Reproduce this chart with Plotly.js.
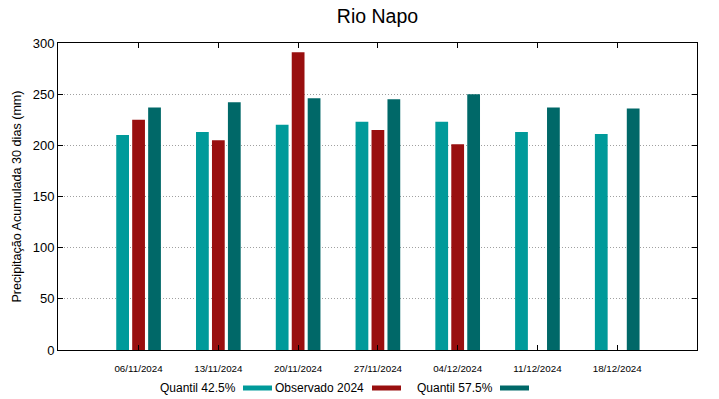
<!DOCTYPE html>
<html><head><meta charset="utf-8">
<script src="https://cdn.plot.ly/plotly-3.0.1.min.js"></script>
<style>body{margin:0;padding:0;background:#fff}#chart{width:719px;height:399px}</style>
</head><body><div id="chart"></div>
<script>
const dates = ["06/11/2024","13/11/2024","20/11/2024","27/11/2024","04/12/2024","11/12/2024","18/12/2024"];
const quantil425 = [210, 213, 220, 223, 223, 213, 211];
const observado2024 = [225, 205, 291, 215, 201, null, null];
const quantil575 = [237, 242, 246, 245, 250, 237, 236];
const seriesNames = ["Quantil 42.5%", "Observado 2024", "Quantil 57.5%"];
const colors = ["#009a9a", "#990f0f", "#006868"];

const FONT = 'Liberation Sans, Arial, sans-serif';
const idx = dates.map((d,i)=>i);
const seriesVals = [quantil425, observado2024, quantil575];
const traces = seriesVals.map((v,k)=>({
  type:'bar', x: idx, y: v, name: seriesNames[k],
  marker:{color: colors[k], line:{width:0}}, showlegend:false, hoverinfo:'skip'
}));

// legend drawn as text + swatch (text first, swatch to the right)
const legTextX = [238, 366, 495];
const legSwX = [243, 372, 500];
const W = 719, H = 399;
const annotations = seriesNames.map((n,k)=>({
  text: n, xref:'paper', yref:'paper', showarrow:false,
  x: (legTextX[k]-58)/(697-58), xanchor:'right',
  y: (350-388)/(350-43), yanchor:'middle',
  font:{family:FONT, size:12, color:'#000'}
}));
const shapes = colors.map((c,k)=>({
  type:'rect', xref:'paper', yref:'paper', line:{width:0}, fillcolor:c,
  x0:(legSwX[k]-58)/(697-58), x1:(legSwX[k]+29-58)/(697-58),
  y0:(350-390.5)/(350-43), y1:(350-385.5)/(350-43)
}));

const layout = {
  width: W, height: H,
  margin:{l:58, r:22, t:43, b:49},
  paper_bgcolor:'#fff', plot_bgcolor:'#fff',
  font:{family:FONT, color:'#000'},
  title:{text:'Rio Napo', x:0.5, xref:'paper', y:1-16/399, yanchor:'middle',
         font:{size:19.5, color:'#000'}},
  barmode:'group', bargap:0.4, bargroupgap:0.2,
  xaxis:{
    range:[-1.01, 7.0], tickvals: idx, ticktext: dates,
    ticks:'inside', ticklen:5, tickcolor:'#000', mirror:'allticks',
    showline:true, linecolor:'#000', linewidth:1, showgrid:false, zeroline:false,
    ticklabelstandoff: 9,
    tickfont:{family:FONT, size:9.8, color:'#000'}
  },
  yaxis:{
    range:[0,300], dtick:50, ticks:'inside', ticklen:5, tickcolor:'#000', mirror:'allticks',
    showline:true, linecolor:'#000', linewidth:1,
    showgrid:true, gridcolor:'#a0a0a0', griddash:'1px,2px', gridwidth:1, zeroline:false,
    tickfont:{size:13, color:'#000'},
    title:{text:'Precipitação Acumulada 30 dias (mm)', font:{size:12.6, color:'#000'}, standoff:8}
  },
  annotations, shapes
};
Plotly.newPlot('chart', traces, layout, {staticPlot:true, displayModeBar:false});
</script></body></html>
